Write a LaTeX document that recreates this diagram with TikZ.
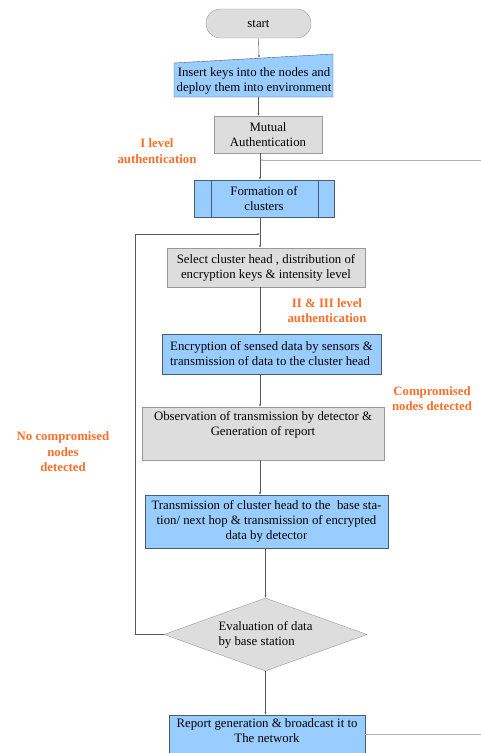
\documentclass[tikz,border=0pt]{standalone}
\usepackage{fontspec}
\setmainfont{Liberation Serif}
\usetikzlibrary{shapes.geometric,arrows.meta}
\definecolor{boxblue}{RGB}{153,204,255}
\definecolor{boxgray}{RGB}{221,221,221}
\definecolor{labelorange}{RGB}{255,110,40}
\tikzset{
  blk/.style={draw=black!40, fill=boxgray, inner sep=1pt, align=center,
    font=\fontsize{12.8}{15}\selectfont},
  bluebox/.style={blk, fill=boxblue, draw=black!35!boxblue!70!black},
  lbl/.style={text=labelorange, align=center,
    font=\bfseries\fontsize{12.8}{15.5}\selectfont},
  flow/.style={draw=black!65, -{Latex[length=2.5pt,width=2pt]}},
}
\begin{document}
\begin{tikzpicture}[x=1pt,y=-1pt]
  \useasboundingbox (0,0) rectangle (481,753);
  \clip (0,0) rectangle (481,753);
  \coordinate (spine) at (260,0);
  % blocks
  \node[blk, rounded corners=14.5pt, minimum width=105pt, minimum height=29pt] (start) at (258.5,23.5) {start};
  \fill[boxblue] (174,63) -- (333,54) -- (333,97) -- (174,97) -- cycle;
  \draw[black!35!boxblue!70!black] (174,63) -- (333,54) -- (333,97) -- (174,97) -- cycle;
  \node[align=center, font=\fontsize{12.8}{15}\selectfont] (insert) at (254,80.5) {Insert keys into the nodes and\\deploy them into environment};
  \coordinate (intop) at (259,58);
  \node[blk, minimum width=108pt, minimum height=37pt] (mutual) at (268,134.5) {Mutual\\Authentication};
  \node[bluebox, minimum width=140pt, minimum height=37pt] (cluster) at (264,198.5) {Formation of\\clusters};
  \draw[black!35!boxblue!70!black] ([xshift=17pt]cluster.north west) -- ([xshift=17pt]cluster.south west)
    ([xshift=-16pt]cluster.north east) -- ([xshift=-16pt]cluster.south east);
  \node[blk, minimum width=198pt, minimum height=39pt] (select) at (266,267.5) {Select cluster head , distribution of\\encryption keys \& intensity level};
  \node[bluebox, minimum width=219pt, minimum height=40pt, align=left] (encrypt) at (271.5,354) {Encryption of sensed data by sensors \&\\transmission of data to the cluster head};
  \node[blk, minimum width=242pt, minimum height=53pt] (observe) at (263,433.5) {Observation of transmission by detector \&\\Generation of report\\ \strut};
  \node[bluebox, minimum width=243pt, minimum height=53pt] (transmit) at (266.5,521.5) {Transmission of cluster head to the\ \ base sta-\\tion/ next hop \& transmission of encrypted\\data by detector};
  \node[blk, diamond, aspect=2.78, minimum width=203pt, minimum height=73pt, inner sep=0pt, align=left] (eval) at (265.5,634.5) {Evaluation of data\\by base station};
  \node[bluebox, minimum width=196pt, minimum height=50pt] (report) at (267,740) {Report generation \& broadcast it to\\The network\\ \strut};
  % labels
  \node[lbl] (lvlone) at (157,151) {I level\\authentication};
  \node[lbl] (lvltwo) at (327,310.5) {II \& III level\\authentication};
  \node[lbl] (found) at (432,398.5) {Compromised\\nodes detected};
  \node[lbl] (notfound) at (63,452) {No compromised\\nodes\\detected};
  % connectors
  \draw[flow] (start.south) -- (intop);
  \draw[flow] (insert.south -| start.south) -- (mutual.north -| start.south);
  \draw[flow] (mutual.south -| spine) -- (cluster.north -| spine);
  \draw[flow] (cluster.south -| spine) -- (select.north -| spine);
  \draw[flow] (select.south -| spine) -- (encrypt.north -| spine);
  \draw[flow] (encrypt.south -| spine) -- (observe.north -| spine);
  \draw[flow] (observe.south -| spine) -- (transmit.north -| spine);
  \draw[flow] (transmit.south -| eval.north) -- (eval.north);
  \draw[flow] (eval.south) -- (report.north -| eval.south);
  % loop back
  \coordinate (loopl) at (135,234);
  \draw[flow] (eval.west) -| (loopl) -- (loopl -| spine);
  \coordinate (fbout) at (481,734);
  \coordinate (fbin) at (481,160);
  \draw[black!30] ([yshift=6pt]report.east) -- (fbout);
  \draw[flow, draw=black!30] (fbin) -- (fbin -| spine);
\end{tikzpicture}
\end{document}
